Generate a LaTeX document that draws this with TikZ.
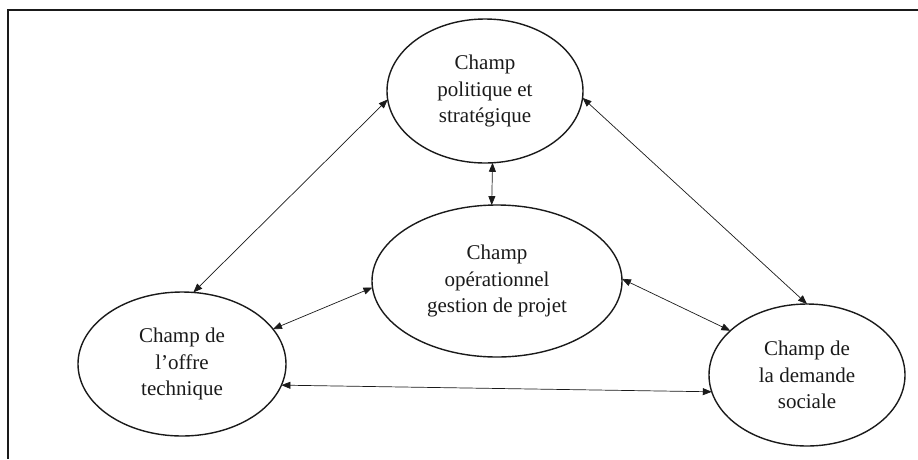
\documentclass[tikz,border=0pt]{standalone}
\usepackage{fontspec}
\setmainfont{Liberation Serif}
\usetikzlibrary{shapes.geometric,arrows.meta}
\definecolor{ink}{HTML}{1A1A1A}
\begin{document}
\begin{tikzpicture}[x=1pt,y=-1pt,
  champ/.style={draw=ink, line width=1.4pt, ellipse, inner sep=0pt, outer sep=0pt,
    align=center, text=ink, font=\fontsize{21}{26.5}\selectfont},
  link/.style={draw=ink, line width=0.7pt, {Triangle[length=9pt,width=7pt]}-{Triangle[length=9pt,width=7pt]}}]
\useasboundingbox (0,0) rectangle (918,459);
\draw[ink, line width=1.2pt] (918,10) -- (8,10) -- (8,459);
\node[champ, minimum width=196pt, minimum height=144pt] (pol) at (485,91) {Champ\\politique et\\stratégique};
\node[champ, minimum width=250pt, minimum height=152pt] (ope) at (497,281) {Champ\\opérationnel\\gestion de projet};
\node[champ, minimum width=208pt, minimum height=144pt] (off) at (182,364) {Champ de\\l’offre\\technique};
\node[champ, minimum width=196pt, minimum height=142pt] (dem) at (807,375) {Champ de\\la demande\\sociale};
\draw[link] (pol.185) -- (off.81);
\draw[link] (pol.356) -- (dem.90);
\draw[link] (pol.276) -- (ope.94.5);
\draw[link] (off.21) -- (ope.183.7);
\draw[link] (ope.1) -- (dem.150);
\draw[link] (off.348) -- (dem.190);
\end{tikzpicture}
\end{document}
